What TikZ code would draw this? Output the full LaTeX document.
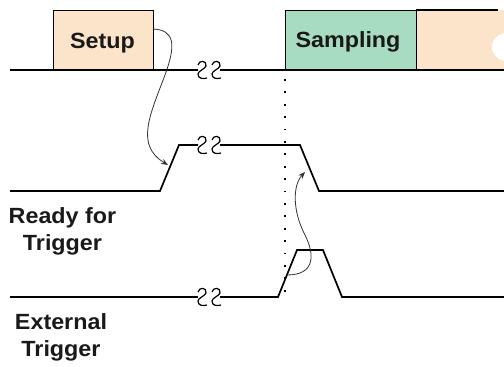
\documentclass[tikz,border=0pt]{standalone}
\usepackage{fontspec}
\setmainfont[FakeStretch=1.06]{Liberation Sans}
\usetikzlibrary{arrows.meta}
\definecolor{peach}{HTML}{FCE4CB}
\definecolor{mint}{HTML}{A8DCC0}
\tikzset{
  sig/.style={line width=1.7pt, line join=miter},
  lbl/.style={font=\fontsize{22}{27}\selectfont\bfseries, align=center, inner sep=0pt, text=black!90},
  brk/.style={line width=1.2pt},
  curvearrow/.style={line width=0.8pt, draw=black!80, -{Stealth[length=7pt,width=5.5pt]}},
  box/.style={draw, line width=1.2pt}
}
\newcommand{\breaksym}[2]{%
  \draw[brk] (#1-4,#2-5) .. controls (#1-3,#2-10) and (#1+5,#2-10) .. (#1+4,#2-4)
     .. controls (#1+3,#2-1) and (#1-4,#2+1) .. (#1-4,#2+4)
     .. controls (#1-4,#2+9) and (#1+1,#2+9) .. (#1+5,#2+8);}
\begin{document}
\begin{tikzpicture}[x=1pt,y=-1pt]
\useasboundingbox (0,0) rectangle (504,367);
% top boxes
\fill[peach] (416,10) rectangle (504,70);
\fill[white] (506,47) circle (14);
\draw[line width=1.2pt] (416,10) -- (498,10);
\node[box, fill=peach, minimum width=100pt, minimum height=60pt, anchor=north west, inner sep=0pt] (setup) at (53,10) {};
\node[lbl, anchor=base] (setuptxt) at (102.5,48) {Setup};
\node[box, fill=mint, minimum width=131pt, minimum height=60pt, anchor=north west, inner sep=0pt] (samp) at (285,10) {};
\node[lbl, anchor=base] (samptxt) at (348,47) {Sampling};
% top line
\coordinate (t0) at (10,70);
\coordinate (t1) at (198,70);
\coordinate (t2) at (220,70);
\coordinate (t3) at (504,70);
\draw[sig] (t0) -- (t1);
\draw[sig] (t2) -- (t3);
\breaksym{202}{70}
\breaksym{216}{70}
% ready for trigger
\coordinate (r0) at (10,191);
\coordinate (r1) at (160,191);
\coordinate (r2) at (179,145);
\coordinate (r3) at (198,145);
\coordinate (r4) at (220,145);
\coordinate (r5) at (300,145);
\coordinate (r6) at (319,191);
\coordinate (r7) at (504,191);
\draw[sig] (r0) -- (r1) -- (r2) -- (r3);
\draw[sig] (r4) -- (r5) -- (r6) -- (r7);
\breaksym{202}{145}
\breaksym{216}{145}
% external trigger
\coordinate (e0) at (10,297);
\coordinate (e1) at (198,297);
\coordinate (e2) at (220,297);
\coordinate (e3) at (278,297);
\coordinate (e4) at (297,250);
\coordinate (e5) at (323,250);
\coordinate (e6) at (342,297);
\coordinate (e7) at (504,297);
\draw[sig] (e0) -- (e1);
\draw[sig] (e2) -- (e3) -- (e4) -- (e5) -- (e6) -- (e7);
\breaksym{202}{297}
\breaksym{216}{297}
% dotted line
\coordinate (d0) at (285,79);
\coordinate (d1) at (285,292);
\draw[line width=1.8pt, dash pattern=on 1.8pt off 10.6pt] (d0) -- (d1);
% labels
\node[lbl] (ready) at (62.5,231) {Ready for\\Trigger};
\node[lbl] (ext) at (61,337) {External\\Trigger};
% curved arrows
\coordinate (a0) at (153,29);
\coordinate (a1) at (168,165);
\draw[curvearrow] (a0) .. controls (175,30) and (176,45) .. (165,75)
   .. controls (150,115) and (135,145) .. (a1);
\coordinate (b0) at (287,275);
\coordinate (b1) at (305,172);
\draw[curvearrow] (b0) .. controls (315,275) and (315,255) .. (305,235)
   .. controls (292,210) and (293,185) .. (b1);
\end{tikzpicture}
\end{document}
